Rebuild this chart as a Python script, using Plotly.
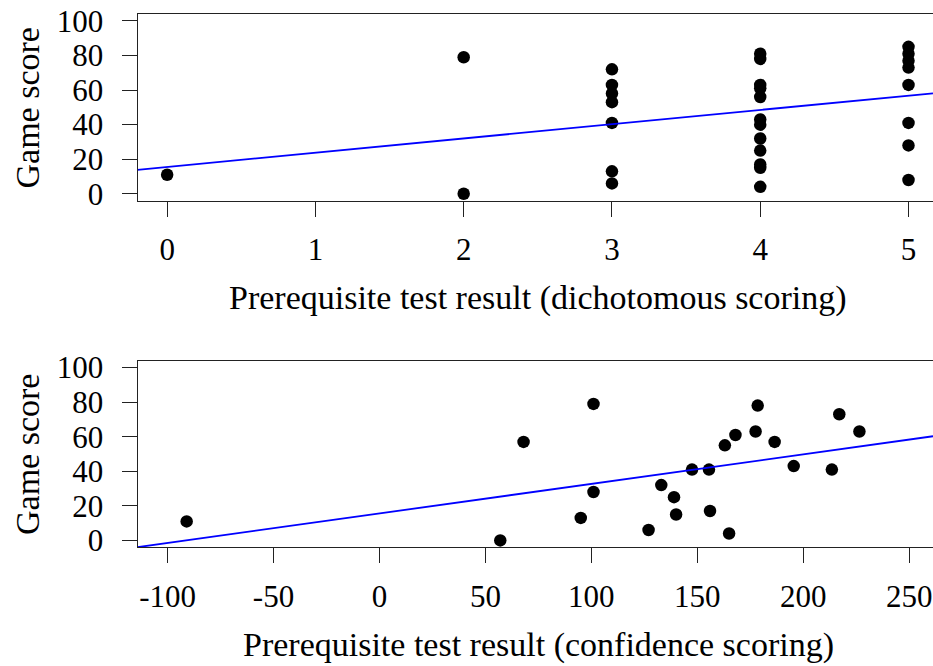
import numpy as np
import plotly.graph_objects as go

# Dichotomous scoring: prerequisite test result vs game score
dich_result = [0,
               2, 2,
               3, 3, 3, 3, 3, 3, 3,
               4, 4, 4, 4, 4, 4, 4, 4, 4, 4, 4, 4,
               5, 5, 5, 5, 5, 5, 5, 5]
dich_score = [11,
              79, 0,
              72, 63, 58, 53, 41, 13, 6,
              81, 78, 63, 61, 56, 43, 40, 32, 25, 17, 15, 4,
              85, 81, 77, 73, 63, 41, 28, 8]

# Confidence scoring: prerequisite test result vs game score
conf_result = [-91, 57, 68, 101, 101, 95, 127, 133, 139, 140, 147.5, 155.5,
               156, 165, 163, 168, 178.5, 177.5, 186.5, 195.5, 213.5, 217, 226.5]
conf_score = [11, 0, 57, 79, 28, 13, 6, 32, 25, 15, 41, 41,
              17, 4, 55, 61, 78, 63, 57, 43, 41, 73, 63]

# Fitted regression lines (intercept, slope)
dich_fit = (15.5, 8.25)
conf_fit = (15.6, 0.171)

x_ticks_top = [0, 1, 2, 3, 4, 5]
x_ticks_bottom = [-100, -50, 0, 50, 100, 150, 200, 250]
x_ticklabels_bottom = ["-100", "-50", "0", "50", "100", "150", "200", "250"]
y_ticks = [0, 20, 40, 60, 80, 100]

W, H = 933, 666
left_px = 137.5
top_range = [-0.2, -0.2 + (W - left_px) / 148.27]
bottom_range = [-114.2, -114.2 + (W - left_px) / 2.1189]
y_range = [-4, 104]

FONT = "Liberation Serif"
TICK_FONT = dict(family=FONT, size=31, color="black")
TITLE_FONT = dict(family=FONT, size=34, color="black")

fig = go.Figure()

fig.add_trace(go.Scatter(
    x=dich_result, y=dich_score, mode="markers",
    marker=dict(size=12.5, color="black"),
    xaxis="x", yaxis="y", showlegend=False, cliponaxis=False))
xs = np.array(top_range)
fig.add_trace(go.Scatter(
    x=xs, y=dich_fit[0] + dich_fit[1] * xs, mode="lines",
    line=dict(color="#0000ff", width=1.8),
    xaxis="x", yaxis="y", showlegend=False))

fig.add_trace(go.Scatter(
    x=conf_result, y=conf_score, mode="markers",
    marker=dict(size=12.5, color="black"),
    xaxis="x2", yaxis="y2", showlegend=False, cliponaxis=False))
xs2 = np.array(bottom_range)
fig.add_trace(go.Scatter(
    x=xs2, y=conf_fit[0] + conf_fit[1] * xs2, mode="lines",
    line=dict(color="#0000ff", width=1.8),
    xaxis="x2", yaxis="y2", showlegend=False))

x_common = dict(showgrid=False, zeroline=False, showline=True, mirror=True,
                linecolor="#222", linewidth=1, ticks="outside", ticklen=15,
                tickwidth=1, tickcolor="#222", tickfont=TICK_FONT,
                ticklabelstandoff=6, automargin=False)
y_common = dict(showgrid=False, zeroline=False, showline=True, mirror=False,
                linecolor="#222", linewidth=1, ticks="outside", ticklen=15,
                tickwidth=1, tickcolor="#222", tickfont=TICK_FONT,
                tickmode="array", tickvals=y_ticks, range=y_range,
                ticklabelstandoff=12, automargin=False)

top_dom = [(H - 200.7) / H, (H - 14) / H]
bot_dom = [(H - 547.3) / H, (H - 360.7) / H]

fig.update_layout(
    width=W, height=H, autosize=False,
    margin=dict(l=0, r=0, t=0, b=0, pad=0),
    paper_bgcolor="white", plot_bgcolor="white",
    xaxis=dict(domain=[left_px / W, 1], range=top_range, anchor="y",
               tickmode="array", tickvals=x_ticks_top, **x_common),
    yaxis=dict(domain=top_dom, anchor="x", **y_common),
    xaxis2=dict(domain=[left_px / W, 1], range=bottom_range, anchor="y2",
                tickmode="array", tickvals=x_ticks_bottom,
                ticktext=x_ticklabels_bottom, **x_common),
    yaxis2=dict(domain=bot_dom, anchor="x2", **y_common),
)

x_center = 538 / W
annotations = [
    dict(text="Prerequisite test result (dichotomous scoring)",
         x=x_center, y=(H - 298) / H),
    dict(text="Prerequisite test result (confidence scoring)",
         x=x_center, y=(H - 645) / H),
    dict(text="Game score", x=27 / W, y=(H - 108.5) / H, textangle=-90),
    dict(text="Game score", x=27 / W, y=(H - 455) / H, textangle=-90),
]
for a in annotations:
    fig.add_annotation(xref="paper", yref="paper", showarrow=False,
                       xanchor="center", yanchor="middle",
                       font=TITLE_FONT, **a)

fig.write_html("out.html")
